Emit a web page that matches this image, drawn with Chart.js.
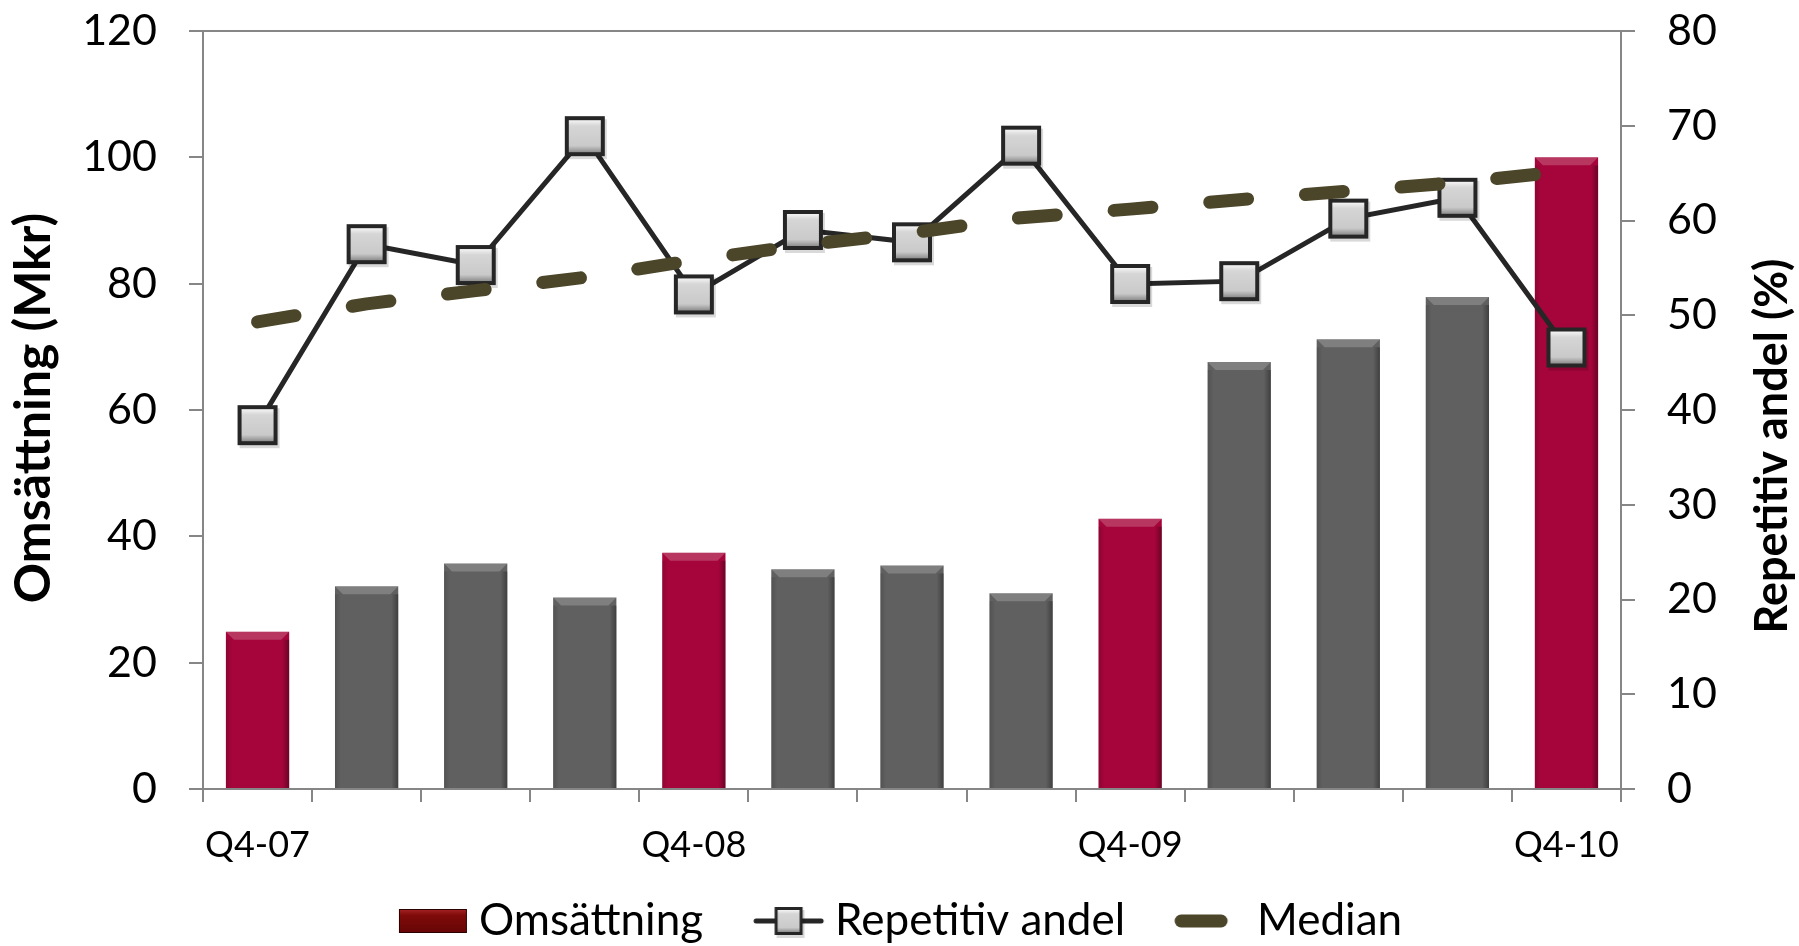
<!DOCTYPE html>
<html><head><meta charset="utf-8">
<script src="https://cdn.jsdelivr.net/npm/chart.js@4/dist/chart.umd.min.js"></script>
<style>html,body{margin:0;padding:0;background:#fff;overflow:hidden}#wrap{width:1799px;height:946px;position:relative}</style>
</head><body><div id="wrap"><canvas id="c" width="1799" height="946"></canvas></div>
<script>
const categories = ['Q4-07','Q1-08','Q2-08','Q3-08','Q4-08','Q1-09','Q2-09','Q3-09','Q4-09','Q1-10','Q2-10','Q3-10','Q4-10'];
const omsattning = [24.9, 32.1, 35.7, 30.3, 37.4, 34.8, 35.4, 31.0, 42.8, 67.6, 71.2, 77.9, 100.0];
const repetitivAndel = [38.4, 57.5, 55.3, 68.9, 52.2, 59.0, 57.7, 67.9, 53.3, 53.6, 60.2, 62.4, 46.6];
const median = [49.3, 51.2, 52.6, 54.0, 55.8, 57.4, 58.7, 60.3, 61.2, 62.2, 63.1, 64.0, 65.2];
const leftTicks = [0, 20, 40, 60, 80, 100, 120];
const rightTicks = [0, 10, 20, 30, 40, 50, 60, 70, 80];
const seriesNames = ['Omsättning', 'Repetitiv andel', 'Median'];
const axisTitles = ['Omsättning (Mkr)', 'Repetitiv andel (%)'];

const RED = '#A5053A', GRAY = '#606060', LINE = '#262626', MED = '#4B4529', AXIS = '#868686';
const FONT = 'Lato';

function makeMarker(size) {
  const pad = 5;
  const c = document.createElement('canvas');
  c.width = size + pad * 2; c.height = size + pad * 2;
  const g = c.getContext('2d');
  g.fillStyle = 'rgba(0,0,0,0.15)';
  g.fillRect(pad + 2, pad + 3, size, size);
  g.fillStyle = LINE;
  g.fillRect(pad, pad, size, size);
  const bw = Math.max(3, Math.round(size * 0.1));
  const ix = pad + bw, iw = size - 2 * bw;
  const grad = g.createLinearGradient(0, ix, 0, ix + iw);
  grad.addColorStop(0, '#F4F4F4');
  grad.addColorStop(0.18, '#D6D6D6');
  grad.addColorStop(0.8, '#CACACA');
  grad.addColorStop(1, '#8E8E8E');
  g.fillStyle = grad;
  g.fillRect(ix, ix, iw, iw);
  return c;
}
const marker = makeMarker(40);

// legend images: 124 px wide, drawn centred on a 100 px legend box
function legendBarImg() {
  const c = document.createElement('canvas'); c.width = 124; c.height = 28;
  const g = c.getContext('2d');
  g.fillStyle = '#2a0000'; g.fillRect(54, 2, 68, 24);
  const gr = g.createLinearGradient(0, 3, 0, 25);
  gr.addColorStop(0, '#A02020'); gr.addColorStop(0.25, '#7E0A0A'); gr.addColorStop(1, '#680606');
  g.fillStyle = gr; g.fillRect(55, 3, 66, 22);
  return c;
}
function legendLineImg() {
  const c = document.createElement('canvas'); c.width = 124; c.height = 40;
  const g = c.getContext('2d');
  g.strokeStyle = LINE; g.lineWidth = 5; g.lineCap = 'round';
  g.beginPath(); g.moveTo(55, 20); g.lineTo(120, 20); g.stroke();
  const m = makeMarker(28);
  g.drawImage(m, 87.5 - m.width / 2, 20 - m.height / 2);
  return c;
}
function legendMedianImg() {
  const c = document.createElement('canvas'); c.width = 124; c.height = 16;
  const g = c.getContext('2d');
  g.strokeStyle = MED; g.lineWidth = 13; g.lineCap = 'round';
  g.beginPath(); g.moveTo(58, 8); g.lineTo(98, 8); g.stroke();
  return c;
}

const bevelPlugin = {
  id: 'bevel',
  afterDatasetDraw(chart, args) {
    if (args.index !== 0) return;
    const ctx = chart.ctx;
    const meta = chart.getDatasetMeta(0);
    ctx.save();
    meta.data.forEach(el => {
      const w = el.width, l = el.x - w / 2, r = el.x + w / 2, t = el.y, b = el.base;
      const bv = 8;
      ctx.fillStyle = 'rgba(255,255,255,0.2)';
      ctx.beginPath(); ctx.moveTo(l, t); ctx.lineTo(r, t); ctx.lineTo(r - bv, t + bv); ctx.lineTo(l + bv, t + bv); ctx.closePath(); ctx.fill();
      const gl = ctx.createLinearGradient(l, 0, l + 6, 0);
      gl.addColorStop(0, 'rgba(0,0,0,0.15)'); gl.addColorStop(1, 'rgba(0,0,0,0)');
      ctx.fillStyle = gl; ctx.fillRect(l, t + bv, 6, b - t - bv);
      const gr = ctx.createLinearGradient(r - 7, 0, r, 0);
      gr.addColorStop(0, 'rgba(0,0,0,0)'); gr.addColorStop(1, 'rgba(0,0,0,0.35)');
      ctx.fillStyle = gr; ctx.fillRect(r - 7, t + bv, 7, b - t - bv);
    });
    ctx.restore();
  }
};

const titlePlugin = {
  id: 'axisTitles',
  afterDraw(chart) {
    const ctx = chart.ctx, ca = chart.chartArea;
    const mid = (ca.top + ca.bottom) / 2;
    const drawT = (txt, x, y, size) => {
      ctx.save();
      ctx.translate(x, y);
      ctx.rotate(-Math.PI / 2);
      ctx.font = 'bold ' + size + 'px ' + FONT;
      ctx.fillStyle = '#000';
      ctx.textAlign = 'center';
      ctx.textBaseline = 'middle';
      ctx.fillText(txt, 0, 0);
      ctx.restore();
    };
    drawT(axisTitles[0], 34, mid - 2, 50);
    drawT(axisTitles[1], chart.width - 27, mid + 36, 45);
  }
};

const noPad = s => { s.paddingTop = 0; s.paddingBottom = 0; };
const legendImgs = [legendBarImg(), legendLineImg(), legendMedianImg()];

new Chart(document.getElementById('c'), {
  data: {
    labels: categories,
    datasets: [
      { type: 'bar', label: seriesNames[0], data: omsattning, yAxisID: 'y',
        backgroundColor: categories.map(c => c.startsWith('Q4') ? RED : GRAY),
        borderWidth: 0, categoryPercentage: 1, barPercentage: 0.58, order: 3 },
      { type: 'line', label: seriesNames[1], data: repetitivAndel, yAxisID: 'y1',
        borderColor: LINE, borderWidth: 5, pointStyle: marker, pointRadius: 20,
        tension: 0, order: 2 },
      { type: 'line', label: seriesNames[2], data: median, yAxisID: 'y1',
        borderColor: MED, borderWidth: 13, borderDash: [38, 58], borderCapStyle: 'round',
        borderJoinStyle: 'round', pointRadius: 0, tension: 0, order: 1 }
    ]
  },
  options: {
    responsive: false, animation: false, devicePixelRatio: 1,
    layout: { padding: { top: 31, left: 0, right: 40, bottom: -7 } },
    plugins: {
      tooltip: { enabled: false },
      legend: {
        position: 'bottom',
        labels: {
          usePointStyle: true, pointStyleWidth: 100, padding: 10,
          color: '#000', font: { family: FONT, size: 44 },
          generateLabels: () => seriesNames.map((n, i) => ({
            text: n, pointStyle: legendImgs[i], fillStyle: 'rgba(0,0,0,0)',
            strokeStyle: 'rgba(0,0,0,0)', lineWidth: 0, hidden: false, datasetIndex: i
          }))
        }
      }
    },
    scales: {
      x: {
        offset: true,
        afterFit: s => { s.height = 100; },
        grid: { offset: true, drawOnChartArea: false, drawTicks: true, tickLength: 13, color: AXIS, lineWidth: 2 },
        border: { display: true, color: AXIS, width: 2 },
        ticks: {
          autoSkip: false, maxRotation: 0, minRotation: 0, padding: 22, color: '#000',
          font: { family: FONT, size: 36 },
          callback: function (v, i) { const l = this.getLabelForValue(v); return l.startsWith('Q4') ? l : ''; }
        }
      },
      y: {
        position: 'left', min: 0, max: 120,
        afterFit: s => { s.width = 203; noPad(s); },
        afterBuildTicks: s => { s.ticks = leftTicks.map(v => ({ value: v })); },
        grid: {
          drawOnChartArea: true, tickLength: 14, lineWidth: 2, tickColor: AXIS,
          color: c => (c.tick && c.tick.value === 120) ? AXIS : 'rgba(0,0,0,0)'
        },
        border: { display: true, color: AXIS, width: 2 },
        ticks: { padding: 32, color: '#000', font: { family: FONT, size: 43 } }
      },
      y1: {
        position: 'right', min: 0, max: 80,
        afterFit: s => { s.width = 138; noPad(s); },
        afterBuildTicks: s => { s.ticks = rightTicks.map(v => ({ value: v })); },
        grid: { drawOnChartArea: false, tickLength: 14, lineWidth: 2, color: AXIS },
        border: { display: true, color: AXIS, width: 2 },
        ticks: { padding: 32, color: '#000', font: { family: FONT, size: 43 } }
      }
    }
  },
  plugins: [bevelPlugin, titlePlugin]
});
</script>
</body></html>
